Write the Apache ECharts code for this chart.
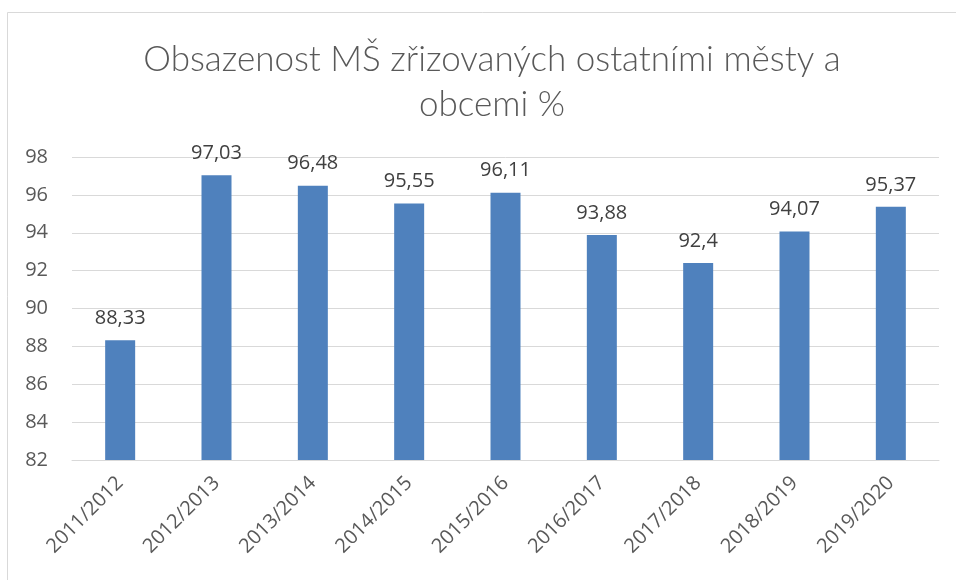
<!DOCTYPE html>
<html>
<head>
<meta charset="utf-8">
<script src="https://cdn.jsdelivr.net/npm/echarts@6/dist/echarts.min.js"></script>
<style>html,body{margin:0;padding:0;background:#fff}#c{width:956px;height:580px}</style>
</head>
<body>
<div id="c"></div>
<script>
const titleText = 'Obsazenost MŠ zřizovaných ostatními městy a\nobcemi %';
const categories = ['2011/2012','2012/2013','2013/2014','2014/2015','2015/2016','2016/2017','2017/2018','2018/2019','2019/2020'];
const values = [88.33, 97.03, 96.48, 95.55, 96.11, 93.88, 92.4, 94.07, 95.37];
const yMin = 82, yMax = 98, yStep = 2;

const chart = echarts.init(document.getElementById('c'), null, {renderer: 'canvas'});
chart.setOption({
  animation: false,
  backgroundColor: '#fff',
  graphic: [{
    type: 'rect', silent: true, z: -1,
    shape: {x: 7.5, y: 12.5, width: 1200, height: 1200},
    style: {fill: 'none', stroke: '#d9d9d9', lineWidth: 1}
  }],
  title: {
    text: titleText,
    left: 487,
    textAlign: 'center',
    top: 32,
    textStyle: {
      fontFamily: 'Lato',
      fontSize: 35,
      fontWeight: 300,
      color: '#595959',
      lineHeight: 45
    }
  },
  grid: {left: 72, right: 17, top: 157, bottom: 120, containLabel: false},
  xAxis: {
    type: 'category',
    data: categories,
    axisLine: {show: true, lineStyle: {color: '#d9d9d9', width: 1}},
    axisTick: {show: false},
    axisLabel: {
      interval: 0, rotate: 45, margin: 20,
      fontFamily: 'Open Sans', fontSize: 20, color: '#595959'
    }
  },
  yAxis: {
    type: 'value',
    min: yMin, max: yMax, interval: yStep,
    axisLine: {show: false},
    axisTick: {show: false},
    splitLine: {lineStyle: {color: '#d9d9d9', width: 1}},
    axisLabel: {margin: 24, fontFamily: 'Open Sans', fontSize: 20, color: '#595959'}
  },
  series: [{
    type: 'bar',
    data: values,
    barWidth: 30,
    itemStyle: {color: '#4f81bd'},
    label: {
      show: true, position: 'top', distance: 12,
      fontFamily: 'Open Sans', fontSize: 20, color: '#404040',
      formatter: p => String(p.value).replace('.', ',')
    }
  }]
});
</script>
</body>
</html>
